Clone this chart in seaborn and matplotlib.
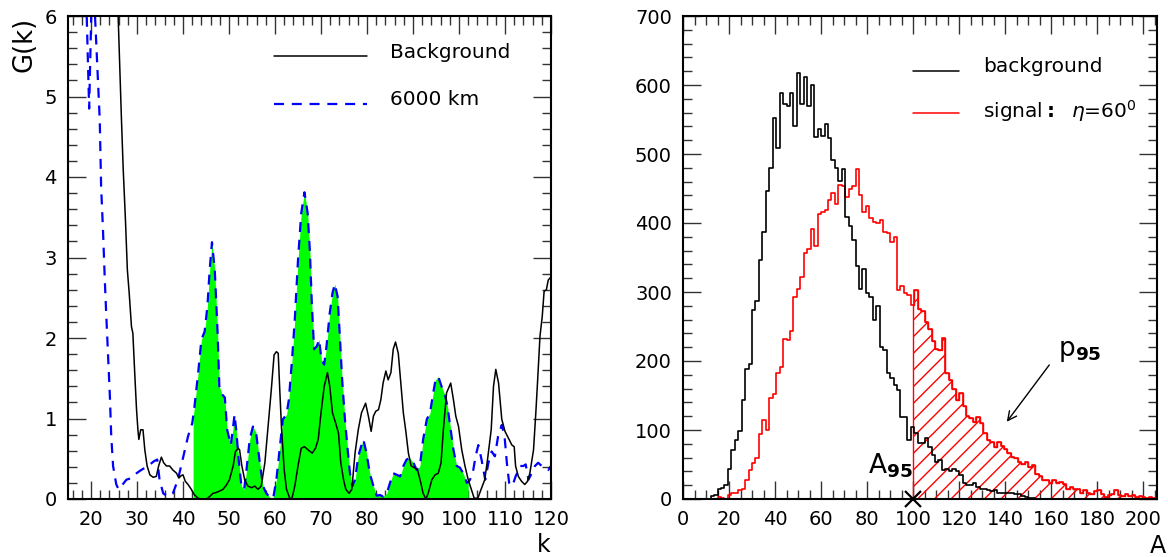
import numpy as np
import matplotlib
matplotlib.use("Agg")
import matplotlib.pyplot as plt
from matplotlib.ticker import MultipleLocator
import seaborn as sns

# ---------------- left panel: G(k) ----------------
k_background = [25.3, 25.9, 26.6, 27.0, 27.5, 27.9, 28.3, 28.8, 29.1, 29.5, 29.9, 30.2, 30.4, 30.8,
                31.3, 31.7, 32.2, 32.8, 33.5, 34.2, 34.7, 35.3, 35.8, 36.4, 37.1, 37.8, 38.6, 39.1,
                39.6, 40.0, 40.5, 41.1, 41.8, 42.5, 43.3, 44.0, 45.1, 45.8, 46.5, 47.2, 48.0, 48.7,
                49.4, 50.1, 50.9, 51.4, 52.0, 52.3, 52.8, 53.4, 54.1, 54.9, 55.6, 56.3, 57.0, 57.8,
                58.5, 59.2, 59.8, 60.3, 60.7, 61.0, 61.4, 62.0, 62.5, 63.2, 63.7, 64.3, 65.0, 65.7,
                66.4, 67.2, 68.1, 68.8, 69.4, 70.0, 70.7, 71.4, 71.9, 72.5, 73.2, 73.8, 74.3, 74.9,
                75.4, 76.1, 76.7, 77.4, 78.1, 78.8, 79.7, 80.3, 80.9, 81.4, 81.9, 82.5, 83.0, 83.5,
                84.1, 84.6, 85.2, 85.7, 86.2, 86.8, 87.4, 87.9, 88.4, 89.0, 89.6, 90.3, 91.0, 91.7,
                92.2, 92.8, 93.3, 94.1, 94.8, 95.5, 96.1, 96.6, 97.3, 98.2, 98.8, 99.3, 99.9, 100.6,
                101.3, 102.0, 102.8, 103.3, 104.1, 104.8, 105.6, 106.2, 107.0, 107.5, 108.0, 108.6,
                109.3, 110.0, 110.7, 111.5, 112.0, 112.3, 112.9, 113.6, 114.3, 114.9, 115.4, 116.2,
                116.7, 117.1, 117.6, 118.1, 118.5, 119.0, 119.4, 120.0]
g_background = [7.0, 6.0, 4.75, 4.1, 3.45, 2.85, 2.56, 2.14, 2.06, 1.57, 1.11, 0.86, 0.74, 0.86,
                0.86, 0.61, 0.41, 0.30, 0.27, 0.28, 0.41, 0.52, 0.45, 0.41, 0.41, 0.36, 0.32, 0.26,
                0.29, 0.30, 0.22, 0.18, 0.12, 0.05, 0.01, 0.0, 0.0, 0.03, 0.07, 0.08, 0.10, 0.12,
                0.17, 0.24, 0.41, 0.59, 0.63, 0.61, 0.41, 0.24, 0.16, 0.14, 0.16, 0.12, 0.16, 0.45,
                0.90, 1.36, 1.79, 1.83, 1.81, 1.40, 0.90, 0.36, 0.12, 0.01, 0.01, 0.16, 0.41, 0.63,
                0.65, 0.61, 0.57, 0.63, 0.74, 1.07, 1.40, 1.57, 1.40, 1.07, 0.94, 0.82, 0.45, 0.24,
                0.12, 0.07, 0.12, 0.57, 0.86, 1.07, 1.19, 1.03, 0.84, 1.03, 1.09, 1.11, 1.23, 1.44,
                1.59, 1.48, 1.57, 1.86, 1.95, 1.81, 1.40, 1.07, 0.86, 0.57, 0.41, 0.39, 0.36, 0.20,
                0.07, 0.0, 0.07, 0.24, 0.30, 0.32, 0.45, 0.86, 1.32, 1.44, 1.23, 1.03, 0.90, 0.61,
                0.41, 0.24, 0.10, 0.01, 0.01, 0.12, 0.24, 0.49, 0.86, 1.40, 1.61, 1.44,
                0.99, 0.84, 0.76, 0.67, 0.65, 0.41, 0.28, 0.22, 0.18, 0.22, 0.32, 0.61,
                1.07, 1.48, 2.02, 2.27, 2.58, 2.60, 2.72, 2.76]

k_6000 = [18.6, 19.07, 19.6, 20.05, 20.4, 20.87, 21.9, 22.2, 22.6, 23.0, 23.3, 23.7, 24.1, 24.4,
          24.8, 25.5, 26.0, 26.6, 27.7, 28.8, 29.9, 30.9, 32.4, 33.7, 34.4, 34.9, 35.7, 36.7,
          37.8, 38.9, 39.6, 40.4, 41.1, 42.0, 42.2, 42.5, 43.3, 44.0, 44.7, 45.3, 45.8, 46.3,
          46.9, 47.5, 47.9, 48.5, 49.1, 49.6, 50.4, 50.9, 51.2, 51.6, 52.1, 52.7, 53.3, 53.8,
          54.5, 55.2, 55.9, 56.7, 57.4, 58.1, 59.1, 59.6, 60.3, 61.0, 61.7, 62.5, 63.0, 63.7,
          64.3, 65.0, 65.7, 66.4, 67.1, 67.6, 68.0, 68.5, 69.1, 69.6, 70.1, 70.7, 71.2, 71.9,
          72.5, 73.0, 73.6, 74.1, 74.6, 75.2, 75.8, 76.3, 76.8, 77.4, 78.1, 78.7, 79.2, 79.9,
          80.6, 81.4, 82.1, 82.8, 83.5, 84.3, 85.0, 85.7, 86.5, 87.2, 87.9, 88.6, 89.3, 90.1,
          90.8, 91.5, 92.2, 93.0, 93.7, 94.4, 94.9, 95.5, 96.2, 97.0, 97.5, 98.2, 98.8, 99.5,
          100.2, 100.9, 101.7, 102.0, 102.4, 103.1, 103.6, 104.2, 104.9, 105.7, 106.4, 107.1,
          107.8, 108.5, 109.3, 109.9, 110.4, 110.9, 111.6, 112.3, 113.3, 114.0, 114.5, 115.1,
          115.8, 116.5, 117.2, 118.0, 118.7, 119.4, 120.0]
g_6000 = [7.0, 6.0, 4.85, 6.0, 6.6, 6.0, 4.71, 3.88, 3.35, 2.72, 2.31, 1.81, 1.28, 0.78,
          0.41, 0.18, 0.12, 0.16, 0.24, 0.26, 0.32, 0.36, 0.41, 0.47, 0.49, 0.24, 0.07, 0.03,
          0.07, 0.24, 0.41, 0.61, 0.78, 0.94, 1.02, 1.15, 1.57, 1.98, 2.08, 2.39, 2.85, 3.19,
          2.85, 2.10, 1.40, 1.30, 1.26, 0.86, 0.67, 0.90, 1.05, 0.84, 0.49, 0.16, 0.12, 0.36,
          0.74, 0.90, 0.82, 0.45, 0.16, 0.07, 0.01, 0.01, 0.24, 0.61, 0.99, 1.05, 1.23, 1.73,
          2.23, 2.97, 3.55, 3.81, 3.55, 3.06, 2.43, 1.86, 1.90, 1.98, 1.73, 1.67, 1.90, 2.31,
          2.56, 2.67, 2.52, 2.02, 1.48, 0.99, 0.61, 0.32, 0.16, 0.24, 0.53, 0.65, 0.74, 0.57,
          0.32, 0.16, 0.04, 0.05, 0.03, 0.07, 0.20, 0.32, 0.30, 0.28, 0.41, 0.49, 0.51, 0.45,
          0.36, 0.41, 0.74, 0.99, 1.07, 1.32, 1.48, 1.52, 1.40, 1.28, 1.15, 0.86, 0.61, 0.41,
          0.39, 0.32, 0.20, 0.21, 0.24, 0.36, 0.53, 0.67, 0.49, 0.24, 0.45, 0.59,
          0.53, 0.78, 0.92, 0.78, 0.45, 0.20, 0.16, 0.28, 0.41, 0.41, 0.43, 0.24,
          0.32, 0.41, 0.45, 0.41, 0.39, 0.36, 0.41]

excess_k_range = (42.2, 102.0)

# ---------------- right panel: histograms of A ----------------
bin_width = 1.5
counts_background = [0, 0, 0, 0, 0, 0, 0, 0, 4, 6, 14, 16, 20, 43, 71, 86, 98, 143, 188, 196,
                     274, 287, 347, 387, 446, 480, 552, 508, 589, 573, 569, 589, 540, 618, 573, 612,
                     569, 600, 524, 536, 526, 543, 523, 492, 479, 461, 478, 409, 396, 376, 337, 305,
                     333, 298, 293, 259, 280, 221, 216, 182, 175, 165, 158, 119, 119, 86, 105, 96,
                     81, 81, 88, 76, 64, 54, 57, 42, 43, 40, 43, 40, 35, 23, 20, 20, 23, 17,
                     14, 15, 13, 11, 13, 9, 9, 9, 8, 8, 7, 7, 4, 3, 1, 1,
                     0, 0, 0, 0, 0, 0, 0, 0, 0, 0, 0, 0, 0, 0, 0, 0, 0, 0,
                     0, 0, 0, 0, 0, 0, 0, 0, 0, 0, 0, 0, 0, 0, 0, 0, 0, 0]
counts_signal = [0, 0, 0, 0, 0, 0, 0, 0, 0, 0, 3, 2, 0, 6, 8, 9, 13, 15, 28, 42,
                 52, 59, 94, 115, 100, 146, 152, 182, 192, 232, 230, 243, 293, 305, 322, 356,
                 363, 392, 366, 413, 416, 419, 434, 443, 428, 455, 453, 438, 450, 453, 478, 440,
                 416, 424, 407, 402, 400, 404, 387, 385, 373, 380, 303, 308, 298, 296, 281, 303,
                 275, 273, 257, 247, 229, 218, 216, 233, 182, 172, 160, 144, 153, 135, 120, 118,
                 112, 119, 110, 96, 86, 83, 76, 83, 77, 73, 67, 61, 60, 53, 51, 53, 47, 49,
                 36, 33, 27, 28, 23, 27, 23, 25, 22, 15, 17, 14, 15, 9, 13, 9, 7, 11,
                 13, 7, 3, 6, 7, 13, 6, 4, 7, 4, 6, 3, 4, 3, 2, 3, 2, 2]
a95 = 100.0

# ---------------- style ----------------
sns.set_style("ticks")
plt.rcParams["font.family"] = ["DejaVu Sans"]
plt.rcParams["hatch.linewidth"] = 1.0
plt.rcParams["axes.linewidth"] = 1.5
plt.rcParams["text.color"] = "black"
plt.rcParams["axes.labelcolor"] = "black"
plt.rcParams["xtick.color"] = "black"
plt.rcParams["ytick.color"] = "black"
plt.rcParams["xtick.labelcolor"] = "black"
plt.rcParams["ytick.labelcolor"] = "black"

fig = plt.figure(figsize=(11.68, 5.57), dpi=100)
W, H = 1168.0, 557.0
ax1 = fig.add_axes([68 / W, 58 / H, 483 / W, 483 / H])
ax2 = fig.add_axes([683 / W, 58 / H, 474 / W, 483 / H])


def style_axis(ax):
    for s in ax.spines.values():
        s.set_color("black")
        s.set_linewidth(1.5)
    ax.tick_params(which="both", direction="in", top=True, right=True,
                   color="#333333", labelcolor="black", width=1.0, labelsize=14, pad=8)
    ax.tick_params(which="major", length=13)
    ax.tick_params(which="minor", length=6.5)
    ax.set_xlabel("")
    ax.set_ylabel("")


# ---- left panel ----
kb = np.array(k_background)
gb = np.array(g_background)
k6 = np.array(k_6000)
g6 = np.array(g_6000)

mask = (k6 >= excess_k_range[0]) & (k6 <= excess_k_range[1])
ax1.fill_between(k6, 0, g6, where=mask, color="#00ff00", linewidth=0, zorder=1)
sns.lineplot(x=kb, y=gb, ax=ax1, color="black", linewidth=1.1, estimator=None, sort=False, zorder=3)
sns.lineplot(x=k6, y=g6, ax=ax1, color="#0000ff", linewidth=1.6, estimator=None, sort=False,
             zorder=2)
ax1.lines[-1].set_dashes([4.5, 3.5])
ax1.set_axisbelow(True)

ax1.set_xlim(15, 120)
ax1.set_ylim(0, 6)
ax1.xaxis.set_major_locator(MultipleLocator(10))
ax1.xaxis.set_minor_locator(MultipleLocator(2))
ax1.yaxis.set_major_locator(MultipleLocator(1))
ax1.yaxis.set_minor_locator(MultipleLocator(0.2))
style_axis(ax1)

# legend keys
ax1.plot([0.4265, 0.619], [0.917, 0.917], transform=ax1.transAxes, color="black", lw=1.1)
ax1.plot([0.4265, 0.619], [0.818, 0.818], transform=ax1.transAxes, color="#0000ff", lw=1.6,
         dashes=[4.5, 3.5])
ax1.text(0.667, 0.913, "Background", transform=ax1.transAxes, fontsize=14.5, va="baseline")
ax1.text(0.667, 0.815, "6000 km", transform=ax1.transAxes, fontsize=14.5, va="baseline")

# ---- right panel ----
edges = np.arange(0, bin_width * (len(counts_signal) + 1) - 1e-9, bin_width)
centers = edges[:-1] + bin_width / 2
cb = np.array(counts_background, dtype=float)
cs = np.array(counts_signal, dtype=float)

# hatched tail of the signal above A95
start = int(np.floor(a95 / bin_width))
x_tail = np.concatenate([[a95], edges[start + 1:]])
y_tail = np.concatenate([cs[start:], [cs[-1]]])
ax2.fill_between(x_tail, 0, y_tail, step="post", facecolor="none", edgecolor="#ff0000",
                 hatch="//", linewidth=1.0, zorder=1)

sns.histplot(x=centers, weights=cs, bins=list(edges), element="step", fill=False,
             color="#ff0000", linewidth=1.2, ax=ax2, zorder=2)
sns.histplot(x=centers, weights=cb, bins=list(edges), element="step", fill=False,
             color="black", linewidth=1.2, ax=ax2, zorder=3)

ax2.plot([a95], [0], marker="x", ms=11, mew=1.6, color="black", clip_on=False, zorder=6)

ax2.set_xlim(0, 206)
ax2.set_ylim(0, 700)
ax2.xaxis.set_major_locator(MultipleLocator(20))
ax2.xaxis.set_minor_locator(MultipleLocator(5))
ax2.yaxis.set_major_locator(MultipleLocator(100))
ax2.yaxis.set_minor_locator(MultipleLocator(20))
style_axis(ax2)

ax2.plot([0.485, 0.582], [0.887, 0.887], transform=ax2.transAxes, color="black", lw=1.1)
ax2.plot([0.485, 0.582], [0.800, 0.800], transform=ax2.transAxes, color="#ff0000", lw=1.1)
ax2.text(0.633, 0.885, "background", transform=ax2.transAxes, fontsize=14.5, va="baseline")
ax2.text(0.633, 0.790, r"signal$\mathbf{:}$  $\eta$=60$^{0}$", transform=ax2.transAxes,
         fontsize=14.5, va="baseline")

ax2.text(80.6, 37, r"A$_{\mathbf{95}}$", fontsize=19, ha="left", va="baseline")
ax2.text(163, 207, r"p$_{\mathbf{95}}$", fontsize=19, ha="left", va="baseline")
ax2.annotate("", xy=(140, 108.7), xytext=(159.9, 197.5),
             arrowprops=dict(arrowstyle="->", lw=1.0, color="black", mutation_scale=16))

# axis titles
fig.text(24.5 / W, 1 - 44 / H, "G(k)", rotation=90, fontsize=18.5, ha="center", va="center")
fig.text(544 / W, 1 - 545 / H, "k", fontsize=17, ha="center", va="center")
fig.text(1166 / W, 1 - 546 / H, "A", fontsize=17, ha="right", va="center")

fig.savefig("out.png", dpi=100)
